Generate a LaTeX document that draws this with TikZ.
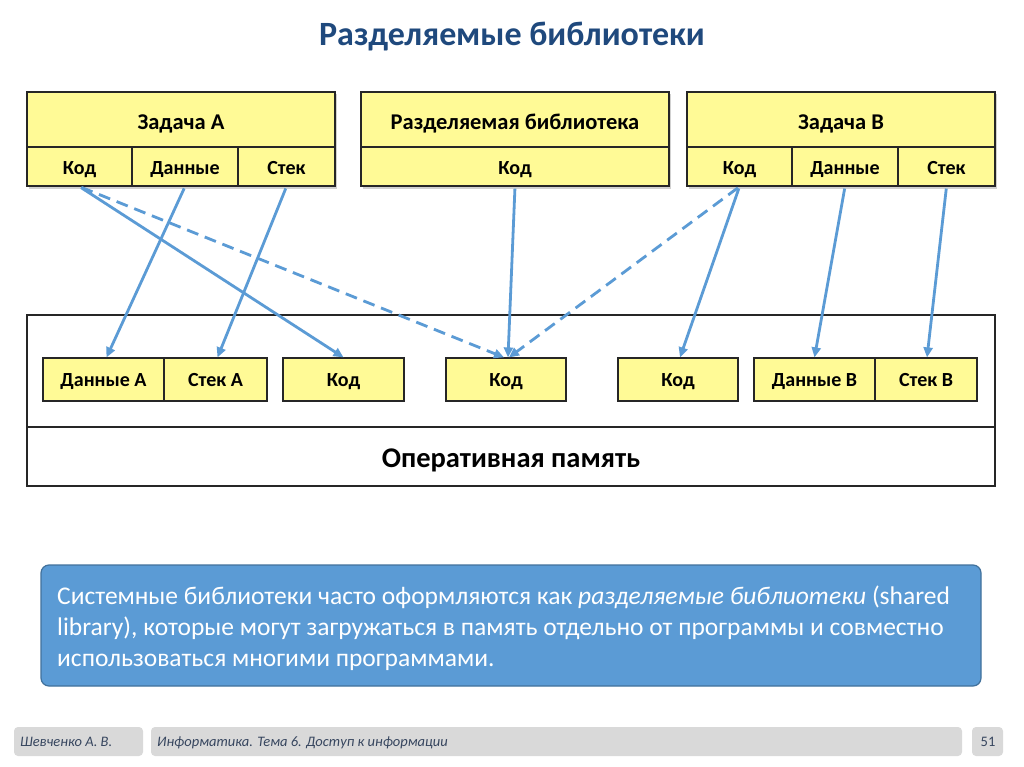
\documentclass[tikz,border=0pt]{standalone}
\usepackage{fontspec}
\setmainfont{Carlito}
\usetikzlibrary{arrows.meta,calc}
\definecolor{cellyellow}{RGB}{255,250,150}
\definecolor{arrowblue}{RGB}{91,155,213}
\definecolor{boxblue}{RGB}{91,155,213}
\definecolor{boxborder}{RGB}{65,113,156}
\definecolor{titleblue}{RGB}{31,73,125}
\definecolor{footgray}{RGB}{217,217,217}
\definecolor{foottext}{RGB}{55,70,95}
\begin{document}
\begin{tikzpicture}[x=1pt,y=-1pt,
  cell/.style={draw=black!85,line width=1.2pt,fill=cellyellow,inner sep=0pt,
    text height=16pt,text depth=0pt,
    font=\fontsize{20}{24}\selectfont\bfseries},
  headcell/.style={cell,minimum width=308pt,minimum height=55pt,text height=19.4pt,
    font=\fontsize{22.5}{26}\selectfont\bfseries},
  memcell/.style={cell,minimum height=43pt,text height=14pt},
  link/.style={draw=arrowblue,line width=2.8pt,-{Triangle[length=10pt,width=9pt]},shorten <=2pt},
  dlink/.style={link,dash pattern=on 12pt off 7pt},
  footbox/.style={fill=footgray,rounded corners=4pt,draw=none},
  foot/.style={font=\fontsize{14.5}{16}\selectfont\itshape,text=foottext,inner sep=0pt}
]
\useasboundingbox (0,0) rectangle (1024,767);
\fill[white] (0,0) rectangle (1024,767);

% title
\node[font=\fontsize{34}{38}\selectfont\bfseries,text=titleblue] (title) at (512,37) {Разделяемые библиотеки};

% Task A
\fill[black,opacity=0.18] (29,94) rectangle (337,189);
\node[headcell] (tA) at (181,119.5) {Задача А};
\node[cell,minimum width=105pt,minimum height=39pt] (tAk) at (79.5,166.5) {Код};
\node[cell,minimum width=106pt,minimum height=39pt] (tAd) at (185,166.5) {Данные};
\node[cell,minimum width=97pt,minimum height=39pt] (tAs) at (286.5,166.5) {Стек};

% Shared library
\fill[black,opacity=0.18] (363,94) rectangle (671,189);
\node[headcell] (tL) at (515,119.5) {Разделяемая библиотека};
\node[cell,minimum width=308pt,minimum height=39pt] (tLk) at (515,166.5) {Код};

% Task B
\fill[black,opacity=0.18] (689,94) rectangle (997,189);
\node[headcell] (tB) at (841,119.5) {Задача В};
\node[cell,minimum width=105pt,minimum height=39pt] (tBk) at (739.5,166.5) {Код};
\node[cell,minimum width=106pt,minimum height=39pt] (tBd) at (845,166.5) {Данные};
\node[cell,minimum width=97pt,minimum height=39pt] (tBs) at (946.5,166.5) {Стек};

% Memory
\node[draw=black!85,line width=1.2pt,minimum width=968pt,minimum height=112pt,inner sep=0pt] (mem) at (511,371) {};
\node[draw=black!85,line width=1.2pt,minimum width=968pt,minimum height=59pt,inner sep=0pt,
  text height=21pt,text depth=0pt,
  font=\fontsize{28.5}{32}\selectfont\bfseries] (ram) at (511,456.5) {Оперативная память};

\node[memcell,minimum width=121pt] (mAd) at (103.5,379.5) {Данные А};
\node[memcell,minimum width=103pt] (mAs) at (215.5,379.5) {Стек А};
\node[memcell,minimum width=121pt] (mAk) at (343.5,379.5) {Код};
\node[memcell,minimum width=120pt] (mLk) at (506,379.5) {Код};
\node[memcell,minimum width=120pt] (mBk) at (678,379.5) {Код};
\node[memcell,minimum width=121pt] (mBd) at (814.5,379.5) {Данные В};
\node[memcell,minimum width=102pt] (mBs) at (926,379.5) {Стек В};

% connectors
\draw[link] (tAk.south) -- (mAk.north);
\draw[dlink] (tAk.south) -- ($(mLk.north)+(-2,0)$);
\draw[link] (tAd.south) -- ($(mAd.north)+(3,0)$);
\draw[link] (tAs.south) -- ($(mAs.north)+(2,0)$);
\draw[link] (tLk.south) -- ($(mLk.north)+(2,0)$);
\draw[dlink] (tBk.south) -- ($(mLk.north)+(3,0)$);
\draw[link] (tBk.south) -- ($(mBk.north)+(2,0)$);
\draw[link] (tBd.south) -- (mBd.north);
\draw[link] (tBs.south) -- ($(mBs.north)+(1,0)$);

% blue note
\node[fill=boxblue,draw=boxborder,line width=1.2pt,rounded corners=8pt,minimum width=940pt,minimum height=121pt,inner sep=0pt] (note) at (511,625.5) {};
\node[anchor=north west,inner sep=0pt,align=left,text=white,font=\fontsize{25.5}{31}\selectfont] (notetext) at (57,586)
 {Системные библиотеки часто оформляются как \textit{разделяемые библиотеки} (shared\\
 library), которые могут загружаться в память отдельно от программы и совместно\\
 использоваться многими программами.};

% footer
\node[footbox,minimum width=129pt,minimum height=29pt,inner sep=0pt] (f1) at (78.5,741.5) {};
\node[footbox,minimum width=811pt,minimum height=29pt,inner sep=0pt] (f2) at (556.5,741.5) {};
\node[footbox,minimum width=31pt,minimum height=29pt,inner sep=0pt] (f3) at (987.5,741.5) {};
\node[foot,anchor=base west] (f1t) at (20,746.5) {Шевченко А. В.};
\node[foot,anchor=base west] (f2t) at (157,746.5) {Информатика. Тема 6. Доступ к информации};
\node[foot,font=\fontsize{14.5}{16}\selectfont,anchor=base] (f3t) at (988,746.5) {51};
\end{tikzpicture}
\end{document}
